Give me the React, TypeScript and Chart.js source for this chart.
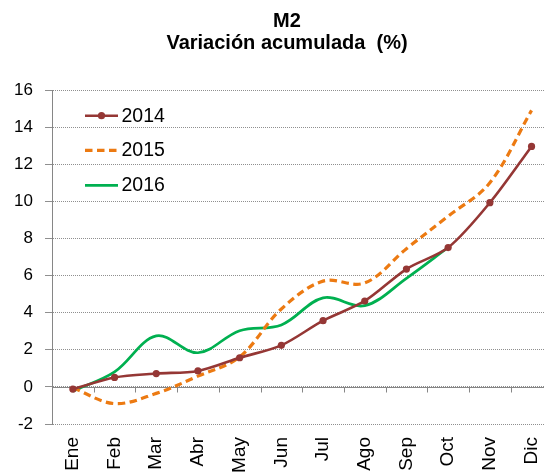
import React, { useEffect, useRef } from 'react';
import { Chart, registerables } from 'chart.js';

Chart.register(...registerables);

const categories = ['Ene', 'Feb', 'Mar', 'Abr', 'May', 'Jun', 'Jul', 'Ago', 'Sep', 'Oct', 'Nov', 'Dic'];
const serie2014 = [-0.12, 0.51, 0.72, 0.86, 1.57, 2.24, 3.57, 4.63, 6.35, 7.51, 9.93, 12.96];
const serie2015 = [-0.05, -0.9, -0.35, 0.58, 1.62, 4.2, 5.7, 5.6, 7.45, 9.2, 11.0, 14.9];
const serie2016 = [-0.23, 0.81, 2.75, 1.84, 3.03, 3.34, 4.8, 4.38, 5.85, 7.51, null, null];
const seriesNames = ['2014', '2015', '2016'];
const yMin = -2;
const yMax = 16;
const yStep = 2;
const titleLines = ['M2', 'Variación acumulada  (%)'];

const FONT = "'Liberation Sans', Arial, sans-serif";
const CANVAS_W = 574;
const CANVAS_H = 474;

const titlePlugin = {
  id: 'fixedTitle',
  afterDraw(chart: any) {
    const { ctx } = chart;
    const ys = [21, 43.5];
    ctx.save();
    ctx.fillStyle = '#000';
    ctx.font = `bold 20px ${FONT}`;
    ctx.textAlign = 'center';
    ctx.textBaseline = 'middle';
    titleLines.forEach((t, i) => ctx.fillText(t, 287, ys[i]));
    ctx.restore();
  },
};

const zeroAxisPlugin = {
  id: 'zeroAxis',
  beforeDatasetsDraw(chart: any) {
    const { ctx, chartArea, scales } = chart;
    const x = scales.x;
    const y = scales.y;
    const y0 = Math.round(y.getPixelForValue(0)) + 0.5;
    ctx.save();
    ctx.strokeStyle = '#868686';
    ctx.lineWidth = 1;
    ctx.beginPath();
    ctx.moveTo(chartArea.left, y0);
    ctx.lineTo(chartArea.right, y0);
    for (let i = 0; i <= categories.length; i++) {
      const px = Math.round(x.getPixelForValue(i - 0.5)) + 0.5;
      ctx.moveTo(px, y0);
      ctx.lineTo(px, y0 + 5);
    }
    ctx.stroke();
    ctx.restore();
  },
};

const legendPlugin = {
  id: 'insideLegend',
  afterDraw(chart: any) {
    const { ctx, chartArea } = chart;
    const rows = [25.7, 60.3, 95.3];
    ctx.save();
    chart.data.datasets.forEach((ds: any, i: number) => {
      const yy = chartArea.top + rows[i];
      const x1 = chartArea.left + 33;
      const x2 = chartArea.left + 66;
      ctx.strokeStyle = ds.borderColor;
      ctx.lineWidth = ds.borderWidth;
      ctx.setLineDash(ds.borderDash || []);
      ctx.beginPath();
      ctx.moveTo(x1, yy);
      ctx.lineTo(x2, yy);
      ctx.stroke();
      ctx.setLineDash([]);
      if (ds.pointRadius > 0) {
        ctx.fillStyle = ds.pointBackgroundColor;
        ctx.beginPath();
        ctx.arc((x1 + x2) / 2, yy, ds.pointRadius, 0, Math.PI * 2);
        ctx.fill();
      }
      ctx.fillStyle = '#000';
      ctx.font = `19.5px ${FONT}`;
      ctx.textBaseline = 'middle';
      ctx.textAlign = 'left';
      ctx.fillText(ds.label, x2 + 3.5, yy + 0.5);
    });
    ctx.restore();
  },
};

export default function App() {
  const ref = useRef<HTMLCanvasElement | null>(null);

  useEffect(() => {
    document.documentElement.style.overflow = 'hidden';
    document.body.style.overflow = 'hidden';
    const canvas = ref.current;
    if (!canvas) return;
    const chart = new Chart(canvas, {
      type: 'line',
      data: {
        labels: categories,
        datasets: [
          {
            label: seriesNames[0],
            data: serie2014,
            borderColor: '#953735',
            backgroundColor: '#953735',
            pointBackgroundColor: '#953735',
            pointBorderColor: '#953735',
            borderWidth: 2.6,
            pointRadius: 3.6,
            pointBorderWidth: 0,
            tension: 0.3,
            fill: false,
          },
          {
            label: seriesNames[1],
            data: serie2015,
            borderColor: '#EC7A12',
            backgroundColor: '#EC7A12',
            borderWidth: 3.2,
            borderDash: [7.5, 4.5],
            pointRadius: 0,
            tension: 0.35,
            fill: false,
          },
          {
            label: seriesNames[2],
            data: serie2016,
            borderColor: '#00B050',
            backgroundColor: '#00B050',
            borderWidth: 2.7,
            pointRadius: 0,
            tension: 0.35,
            fill: false,
            spanGaps: false,
          },
        ],
      },
      options: {
        animation: false,
        responsive: false,
        devicePixelRatio: 1,
        layout: { padding: { left: 0, right: CANVAS_W - 552.4, top: 90, bottom: 0 } },
        plugins: {
          legend: { display: false },
          tooltip: { enabled: false },
          title: { display: false },
        },
        scales: {
          x: {
            type: 'category',
            offset: true,
            grid: { display: false, drawTicks: false },
            border: { display: false },
            ticks: {
              autoSkip: false,
              minRotation: 90,
              maxRotation: 90,
              padding: 13,
              color: '#000',
              font: { family: FONT, size: 19 },
            },
            afterFit(scale: any) {
              scale.height = 50;
            },
          },
          y: {
            min: yMin,
            max: yMax,
            ticks: {
              stepSize: yStep,
              padding: 12,
              color: '#000',
              font: { family: FONT, size: 17 },
            },
            grid: {
              color: '#8f8f8f',
              lineWidth: 1,
              tickLength: 7,
              tickColor: '#8f8f8f',
            },
            border: { display: true, color: '#868686', width: 1, dash: [1, 1] },
            afterFit(scale: any) {
              scale.width = 52;
            },
          },
        },
      },
      plugins: [zeroAxisPlugin, legendPlugin, titlePlugin],
    } as any);
    return () => chart.destroy();
  }, []);

  return (
    <div style={{ position: 'fixed', left: 0, top: 0, width: CANVAS_W, height: CANVAS_H, background: '#fff' }}>
      <canvas ref={ref} width={CANVAS_W} height={CANVAS_H} style={{ display: 'block' }} />
    </div>
  );
}
